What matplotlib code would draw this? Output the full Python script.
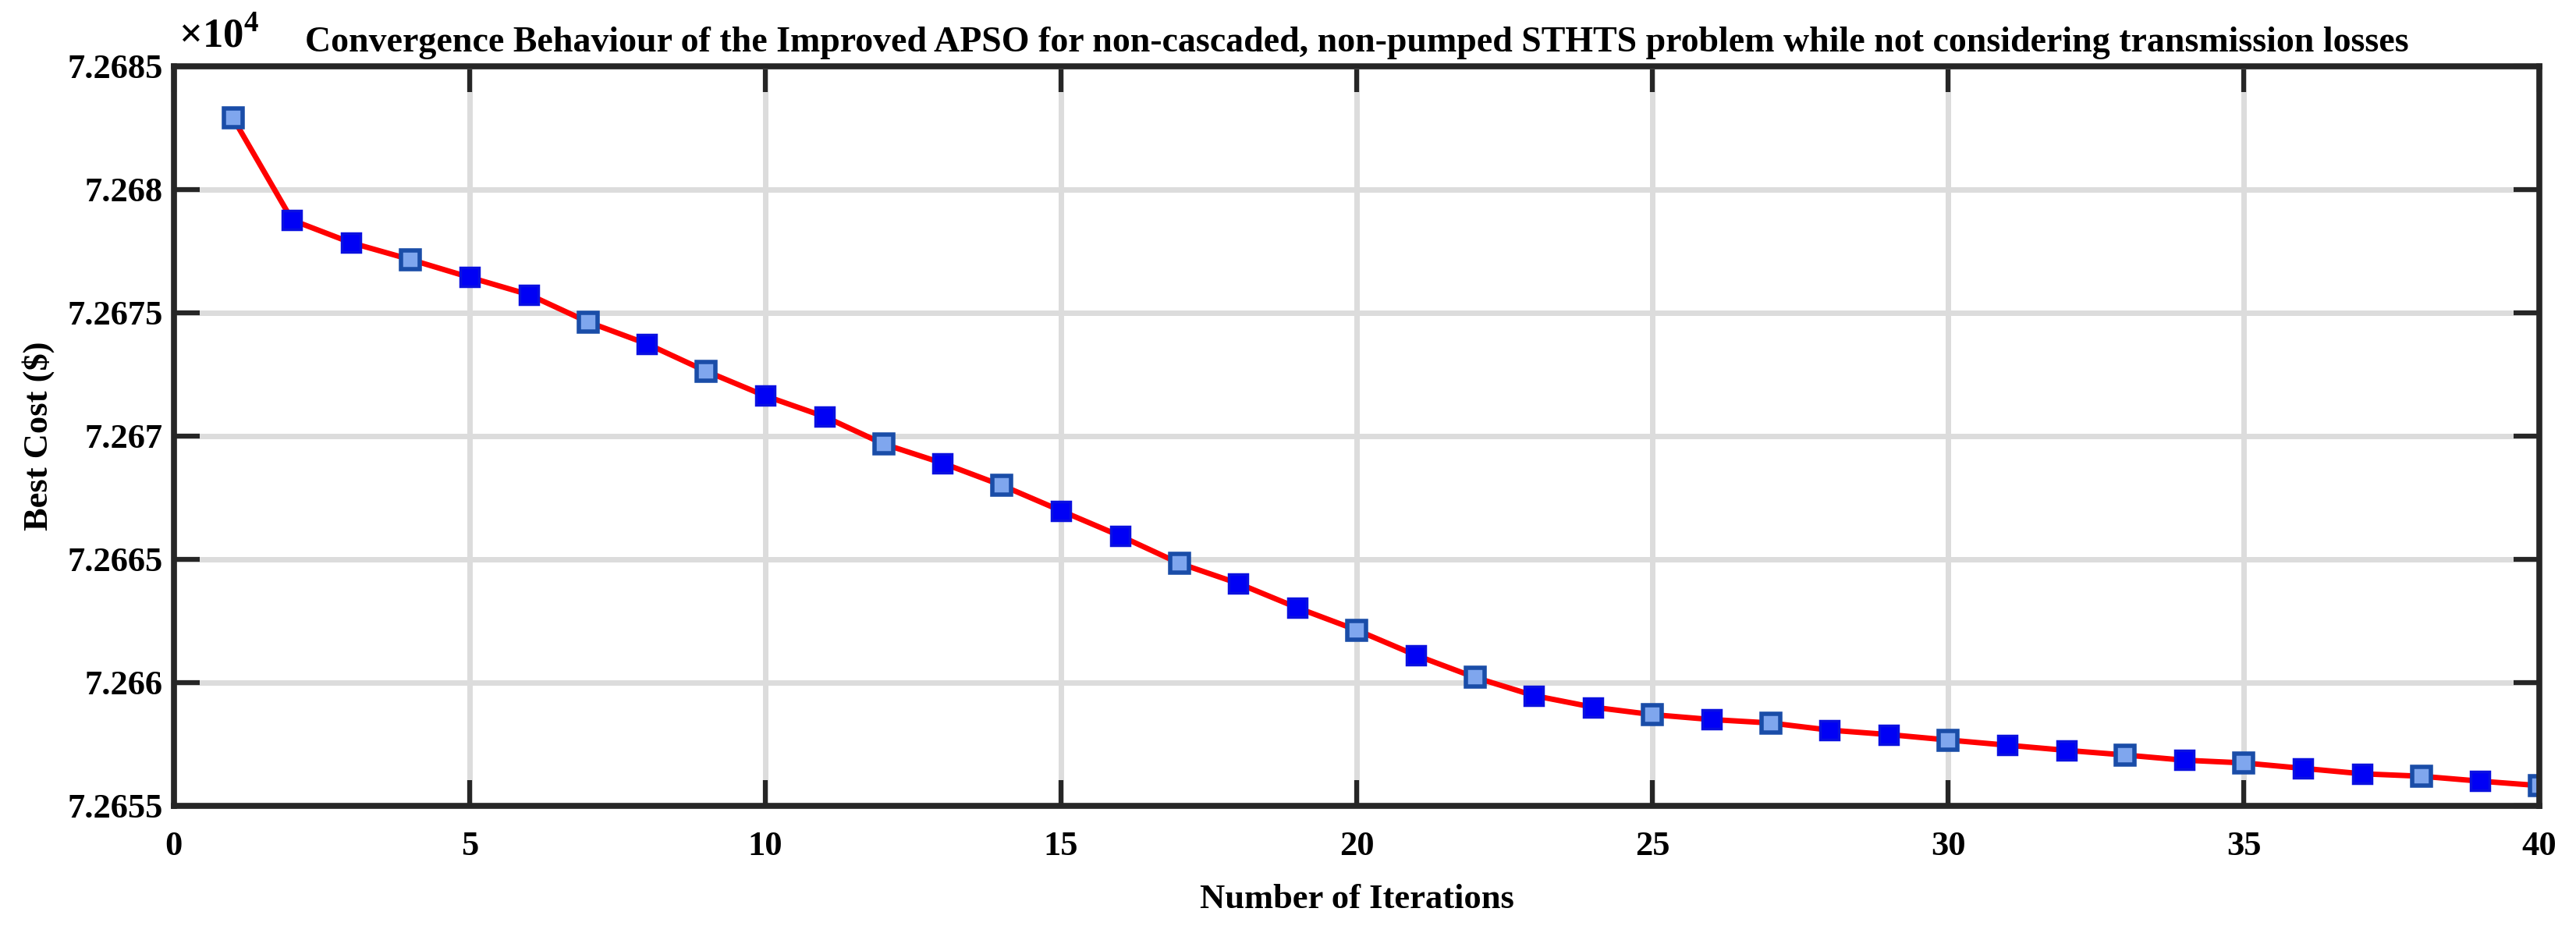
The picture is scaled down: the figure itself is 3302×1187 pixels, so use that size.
import matplotlib
matplotlib.use("Agg")
import matplotlib.pyplot as plt
from matplotlib.ticker import FuncFormatter

# best cost per iteration
iterations = list(range(1, 41))
best_cost = [72682.9, 72678.76, 72677.84, 72677.16, 72676.44, 72675.74, 72674.63, 72673.74,
             72672.63, 72671.63, 72670.79, 72669.68, 72668.9, 72668.0, 72666.97, 72665.95,
             72664.84, 72664.02, 72663.03, 72662.13, 72661.11, 72660.21, 72659.47, 72659.0,
             72658.7, 72658.5, 72658.36, 72658.07, 72657.89, 72657.67, 72657.46, 72657.25,
             72657.06, 72656.85, 72656.74, 72656.52, 72656.3, 72656.2, 72656.0, 72655.82]
x_ticks = [0, 5, 10, 15, 20, 25, 30, 35, 40]
y_ticks = [72655, 72660, 72665, 72670, 72675, 72680, 72685]

title = ("Convergence Behaviour of the Improved APSO for non-cascaded, non-pumped "
         "STHTS problem while not considering transmission losses")

# markers that show up lighter in the original export
light_pts = [1, 4, 7, 9, 12, 14, 17, 20, 22, 25, 27, 30, 33, 35, 38, 40]

plt.rcParams['font.family'] = ['Liberation Serif', 'DejaVu Serif']
plt.rcParams['font.weight'] = 'bold'
plt.rcParams['mathtext.fontset'] = 'custom'
plt.rcParams['mathtext.rm'] = 'Liberation Serif'

dark = '#262626'

fig = plt.figure(figsize=(33.02, 11.87), dpi=100)
ax = fig.add_axes([0.0675, 0.1298, 0.9183, 0.7986])

ax.plot(iterations, best_cost, color='red', lw=5, zorder=3)

lx = [i for i in iterations if i in light_pts]
ly = [c for i, c in zip(iterations, best_cost) if i in light_pts]
sx = [i for i in iterations if i not in light_pts]
sy = [c for i, c in zip(iterations, best_cost) if i not in light_pts]
ax.plot(sx, sy, 's', ms=17, mfc='#0000F5', mec='#0A10E0', mew=2.5, zorder=4)
ax.plot(lx, ly, 's', ms=17, mfc='#7FA6EE', mec='#1A4DA8', mew=4, zorder=4)

ax.set_xlim(0, 40)
ax.set_ylim(72655, 72685)
ax.set_xticks(x_ticks)
ax.set_yticks(y_ticks)
ax.yaxis.set_major_formatter(FuncFormatter(lambda v, p: f"{v / 1e4:g}"))

ax.grid(True, color='#DCDCDC', lw=5, zorder=0)
ax.set_axisbelow(True)
for s in ax.spines.values():
    s.set_linewidth(5.5)
    s.set_color(dark)
    s.set_zorder(5)

ax.tick_params(direction='in', length=24, width=4.5, color=dark, labelsize=32,
               top=True, right=True, labelcolor='black')
ax.tick_params(axis='x', pad=23)
ax.tick_params(axis='y', pad=10)

ax.text(0.002, 1.015, r'$\times10^{4}$', transform=ax.transAxes, fontsize=38,
        fontweight='normal', ha='left', va='bottom')

ax.set_title(title, fontsize=33, fontweight='bold', pad=14)
ax.set_xlabel("Number of Iterations", fontsize=32, fontweight='bold', labelpad=20)
ax.set_ylabel("Best Cost (\\$)", fontsize=32, fontweight='bold', labelpad=12)

fig.savefig("out.png", dpi=100, facecolor='white')
